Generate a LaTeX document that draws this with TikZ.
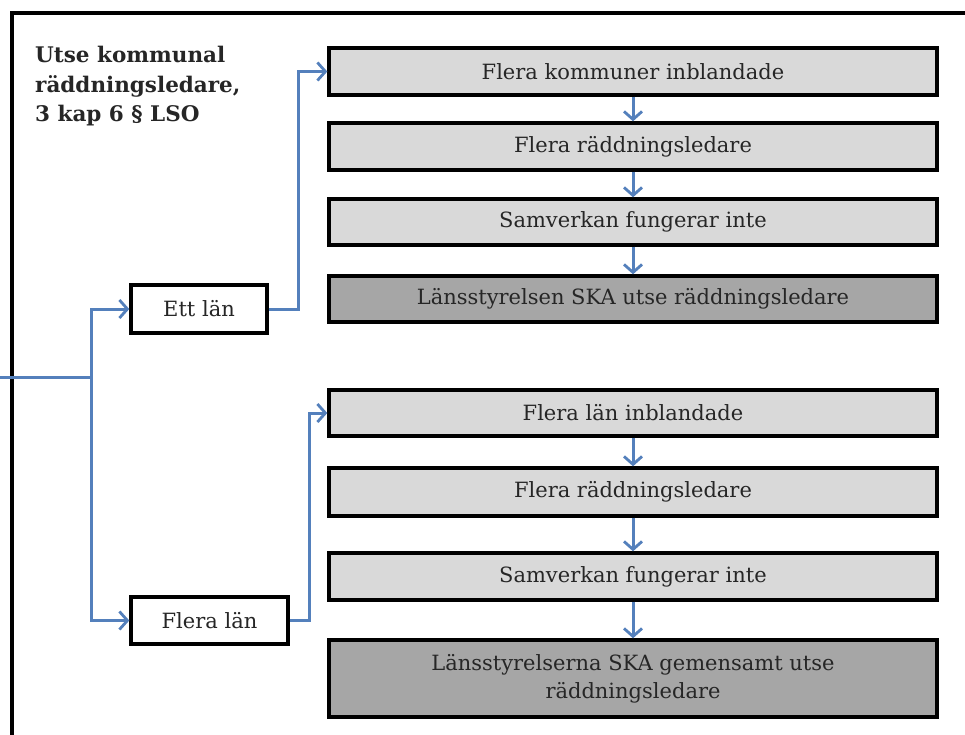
\documentclass[tikz,border=0pt]{standalone}
\usepackage{fontspec}
\setmainfont{DejaVu Serif}
\usetikzlibrary{arrows.meta}
\definecolor{arrowblue}{RGB}{84,128,188}
\definecolor{lightbox}{RGB}{217,217,217}
\definecolor{darkbox}{RGB}{166,166,166}
\tikzset{
  basebox/.style={draw=black, line width=3.4pt, rectangle, inner sep=0pt, align=center,
     font=\fontsize{21}{28}\selectfont, text=black!85},
  lbox/.style={basebox, fill=lightbox, minimum width=608pt, minimum height=47pt},
  dbox/.style={basebox, fill=darkbox, minimum width=608pt},
  wbox/.style={basebox, fill=white, minimum height=48pt},
  conn/.style={draw=arrowblue, line width=3pt, -{Straight Barb[length=8pt,width=18pt,line width=2.8pt]}},
  plainconn/.style={draw=arrowblue, line width=3pt}
}
\begin{document}
\begin{tikzpicture}[x=1pt,y=-1pt]
\useasboundingbox (0,0) rectangle (965,734);
\clip (0,0) rectangle (965,734);
\fill[white] (0,0) rectangle (965,734);
% outer frame
\draw[line width=4.5pt, black] (12,745) -- (12,13) -- (975,13);
% title
\node[anchor=north west, align=left, font=\bfseries\fontsize{21.5}{29.5}\selectfont, text=black!85, inner sep=0pt] (title) at (35,46)
  {Utse kommunal\\räddningsledare,\\3 kap 6 § LSO};
% left boxes
\node[wbox, minimum width=136pt] (ett) at (199,309) {Ett län};
\node[wbox, minimum width=157pt, minimum height=47pt] (flera) at (209.5,620.5) {Flera län};
% upper chain
\node[lbox] (u1) at (633,71.5) {Flera kommuner inblandade};
\node[lbox] (u2) at (633,146.5) {Flera räddningsledare};
\node[lbox, minimum height=46pt] (u3) at (633,222) {Samverkan fungerar inte};
\node[dbox, minimum height=46pt] (u4) at (633,299) {Länsstyrelsen SKA utse räddningsledare};
% lower chain
\node[lbox, minimum height=46pt] (l1) at (633,413) {Flera län inblandade};
\node[lbox, minimum height=48pt] (l2) at (633,492) {Flera räddningsledare};
\node[lbox] (l3) at (633,576.5) {Samverkan fungerar inte};
\node[dbox, minimum height=77pt] (l4) at (633,678.5) {Länsstyrelserna SKA gemensamt utse\\räddningsledare};
% input
\coordinate (in) at (-2,377);
\coordinate (split) at (91,377);
\draw[plainconn] (in) -- (split);
\draw[conn] (split) |- (ett.west);
\draw[conn] (split) |- (flera.west);
% branch connectors
\coordinate (ettbend) at (298,309);
\draw[conn] (ett.east) -- (ettbend) |- (u1.west);
\coordinate (flerabend) at (309,620.5);
\draw[conn] (flera.east) -- (flerabend) |- (l1.west);
% chains
\draw[conn] (u1) -- (u2);
\draw[conn] (u2) -- (u3);
\draw[conn] (u3) -- (u4);
\draw[conn] (l1) -- (l2);
\draw[conn] (l2) -- (l3);
\draw[conn] (l3) -- (l4);
\end{tikzpicture}
\end{document}
